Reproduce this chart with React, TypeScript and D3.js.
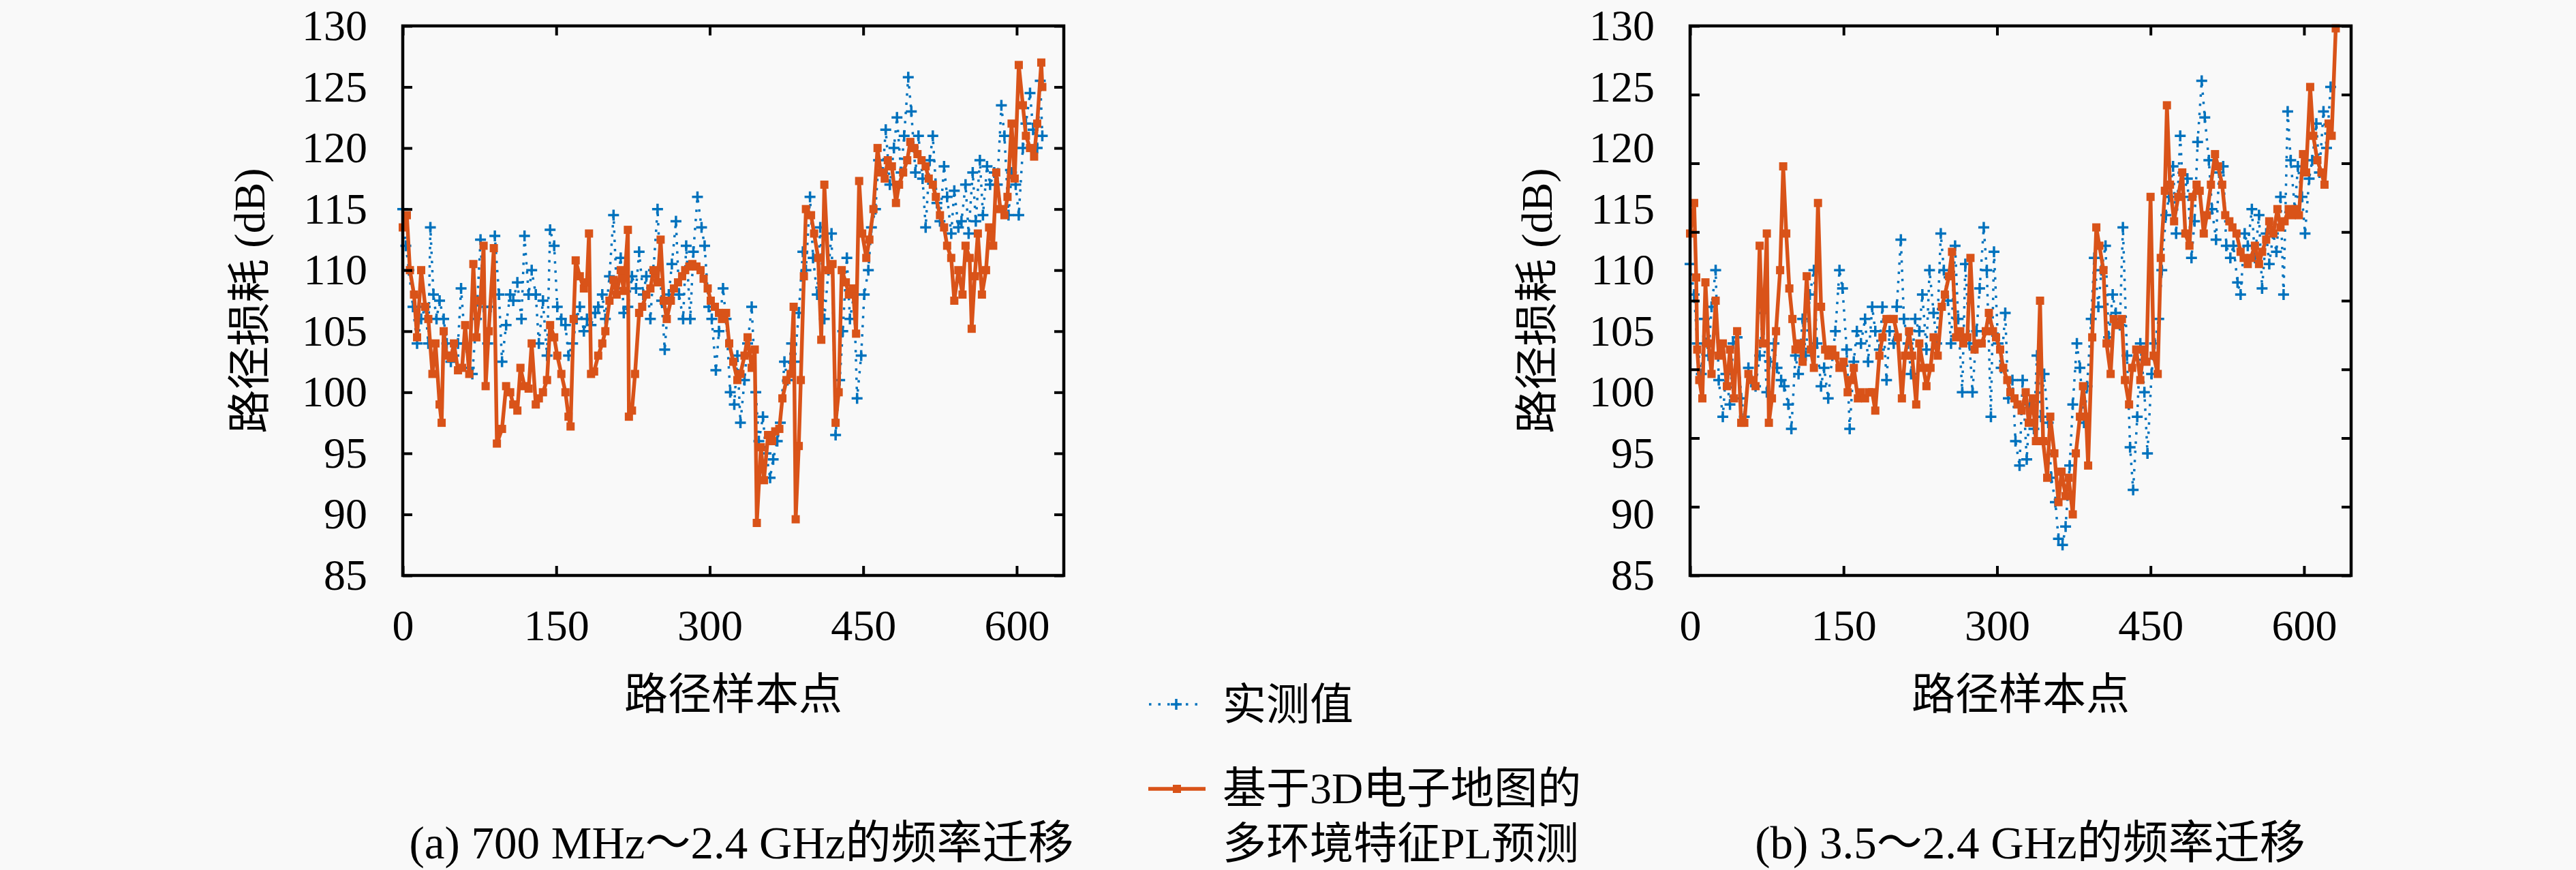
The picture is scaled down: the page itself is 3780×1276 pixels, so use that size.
import React, { useRef, useEffect } from 'react';
import * as d3 from 'd3';

// ---- data (sample index, path loss dB) ----
// (a) 700 MHz -> 2.4 GHz
const measAIdx = [0,3,6,10,14,18,22,25,27,30,33,36,40,43,47,50,54,57,61,65,68,72,76,79,83,86,90,94,97,101,105,108,112,116,119,123,126,130,133,137,141,144,148,151,155,159,162,166,170,173,177,180,184,188,191,195,198,202,206,209,213,216,220,224,228,231,235,238,242,245,249,253,256,260,263,267,270,274,277,281,284,288,292,295,299,302,306,309,313,316,320,324,327,330,334,337,341,345,348,352,355,359,362,366,369,373,376,380,383,387,391,394,398,401,405,408,412,416,419,423,427,430,434,437,441,444,448,451,455,458,462,465,469,472,476,480,483,487,490,494,497,501,504,508,511,515,518,522,525,529,532,536,539,543,546,550,553,557,560,564,567,571,574,578,581,585,588,592,595,599,602,606,609,613,616,620,623,625];
const measAVal = [115,112,110,107,104,106,107,104,113.5,108,106,107.5,106,104,102.5,103,104,108.5,104,102,101.5,106,112.5,107,104,107,112.8,108,102.5,105.5,108,107.5,109,106,112.8,108,110,108,104,107.5,103,113.3,112,107,106,105.5,103,104,106,107,105,106,105.5,106.5,107,108,106,109.5,114.5,108.5,111,106.5,107,109.5,108.5,111.5,108,109.5,106,110,115,107.5,103.5,108,110.5,114,108,106,112,106,111.5,116,113.5,112,107,106,101.8,105,108.5,106,100,99,103,97.5,101,104,107,100,96,98,95,93,94.5,96,97.5,102.5,101,104,102.5,106.5,111.5,110,116,111,108,113.5,106,110,113,96.5,101,105,111,106,108,99.5,103,108,110,113.5,115,119,118,121.5,117,120,122.5,118,121,125.8,123,118,121,117.5,113.5,119,121,115.5,114,118.5,116,113,116.5,113.5,114,117,113,118,114,119,114.5,118.5,117,118,117,123.5,121,114.5,118,117,114.5,120,122,124.5,121.5,120,125.5,121];
const predAIdx = [0,4,7,11,14,18,22,25,29,32,36,38,40,43,47,50,54,58,61,65,69,72,76,79,81,84,89,92,97,101,105,108,112,115,119,123,126,130,133,137,141,144,148,151,155,159,162,164,167,169,173,177,180,182,184,187,191,195,198,202,206,209,213,216,220,221,224,227,231,234,238,242,245,249,252,255,258,262,265,269,273,276,280,283,287,291,294,298,301,305,309,312,316,319,323,327,330,334,337,341,344,346,350,353,357,361,364,368,371,375,379,382,384,387,389,392,394,399,402,406,409,412,416,420,423,426,429,433,436,440,443,446,449,453,456,460,464,467,471,474,478,482,485,489,493,496,500,503,507,511,514,518,521,525,529,532,536,539,543,547,550,554,556,559,562,566,570,573,577,580,584,588,591,595,598,602,606,609,613,617,620,624,625];
const predAVal = [113.5,114.5,110,108,104.5,110,107,106,101.5,104,99,97.5,105,103,102.8,104,101.8,102,105.5,101.5,110.5,104.5,107.5,112,100.5,105,111.8,95.8,97,100.5,100,99,98.5,102,100.5,100.3,104,99,99.5,100,101,105.5,104.5,103,101.5,100,98,97.2,106,110.8,109.5,108.5,109,113,101.5,101.7,103,104,105,107.5,109.2,108,110,108.3,113.3,98,98.5,101.5,106.5,107,108,108.5,110,109,112.5,107.5,106,107.5,108.5,109,109.5,110,110.3,110.5,110.3,110,109.3,108.5,107.5,107,106.5,106,106.5,104,102.5,101,101.5,103,104.5,102,103.5,89.3,95.5,92.8,96.5,96,96.8,97,99.5,101,101.5,107,89.6,95.6,101,109.5,115,114.5,113,111,104.3,117,110,110.5,97.5,100,110,109,108,108.5,104.8,117.3,113,111,112.5,115,120,118,117.5,119,118.5,115.5,117,118,119,120.5,120,119.5,119,118.5,117.5,117,116,114.5,113.5,112,111,107.5,110,108,112,111,105.2,109.5,113,108,110,113.5,112,118,115,114.5,116,122,117.5,126.8,123.5,121,120,119.3,122,127,125];

// (b) 3.5 -> 2.4 GHz
const measBIdx = [0,4,7,11,14,18,21,25,28,32,35,39,42,46,50,53,57,60,64,68,71,75,78,82,85,89,92,96,99,103,106,110,113,117,121,124,128,131,135,139,142,146,149,153,156,160,163,167,171,174,178,181,185,188,192,195,199,202,206,209,213,216,220,224,227,231,234,238,241,245,248,252,255,259,262,266,269,273,276,280,283,287,290,294,297,301,304,308,311,315,318,322,325,329,332,336,339,343,346,350,353,357,360,364,367,371,374,378,381,385,388,392,395,399,402,406,409,413,416,420,423,427,430,433,437,440,444,447,451,454,458,461,465,468,472,475,479,482,486,490,493,496,500,503,507,510,514,517,521,524,528,531,535,538,542,545,549,552,556,559,563,566,570,573,577,580,584,587,591,594,598,601,605,608,612,615,619,622,626];
const measBVal = [110.5,108,104,101.5,106,103,107,110,101,98,101.5,99,104,104.5,99.5,98,102,101,100.5,103,106.5,100,102.5,104,102,101,100.5,99,97,103,101.5,106,103,108,110,104,100.5,102,99.5,103,105,110,108.5,103.5,97,102.5,105,104,106,102.5,107,105,103.5,107,101,105,104,107,112.5,106,104,101.5,106,105,108,103.5,110,106.5,104,113,110,107.5,104,112,106,100,110.5,104,100,105,108.5,113.5,110,98,111.5,104,102,106.5,99.5,101,96,94,101,94.5,99,97,103,98,101.5,97.5,93,91,88,87.5,89,94,99,104,102,97.5,100.5,106,111,107,110,112,104.5,108,106.5,105.5,113.5,103,95.5,92,98,104,100,95,101.5,104,106,110,114.5,116,118.5,113,121,116,117.5,111,114,120.5,125.5,122.5,119,115,112.5,118,118.5,112,111,112,109,108,113,112,115,111,114.5,108.5,113,110.5,113,111.5,116,108,123,119,115,118.5,116,113,117.5,119,122,118,123,120,125];
const predBIdx = [0,4,6,7,9,12,15,18,21,25,28,32,36,39,43,46,50,53,57,60,64,68,71,75,77,80,84,88,91,94,97,100,103,107,110,114,118,121,125,128,132,135,139,142,146,150,154,157,160,164,167,171,175,178,181,185,188,192,196,199,203,207,210,214,217,221,224,228,231,235,238,242,246,249,253,256,260,264,267,271,274,278,281,285,289,292,296,299,303,306,310,313,317,320,324,328,331,335,338,342,345,349,352,356,360,363,367,370,374,377,381,384,387,389,393,397,400,404,407,411,414,418,422,425,429,432,436,440,443,446,450,453,457,460,464,466,469,473,477,481,484,488,491,495,498,502,505,509,513,516,520,523,527,530,534,538,541,545,548,552,556,559,563,566,570,574,577,581,585,588,592,595,599,602,606,609,613,617,620,624,627,631];
const predBVal = [113,115.5,109.4,103.5,101,99.5,109,104,101.5,107.5,103,104,100.5,103.5,99.5,105,97.5,97.5,101.5,101,100.5,112,104,113,97.5,99.5,105,110,118.5,113,108.5,106,103.5,104,102.5,109.5,103.5,102,115.5,107,103.5,103,103.5,103,102,102.5,100,101,102,99.5,100,99.5,100,100,98.5,103,104.5,106,106,106,104.5,99.5,103,105,103,99,104,102,100.5,102,104.5,103,107,108,109.5,111.5,104.5,105,104,104.5,111,103.5,104,104,105,106.5,105,104.5,103.5,102,101,100,99.5,99,98.5,100,97.5,99.5,96,107.5,96,93,98,95,91,93.5,91.5,93,90,95,98,100.5,98,94,104.5,113.5,112,110,104,101.5,106,105.5,106,101,99,102,103.5,101,103.5,102.5,116,103,101.5,111,116.5,123.5,117,114,116,118,113,112,116,117,116.5,113,114.5,117,119.5,118.5,117,114.5,114,113.5,113,111.5,111,110.5,111,112,110.5,111.5,112.5,114,113,115,113.5,114,115,114.5,115,114.5,119.5,118,125,121,119,118,117,122,121,129.8];

const xTicks = [0, 150, 300, 450, 600];
const yTickLabels = [85, 90, 95, 100, 105, 110, 115, 120, 125, 130];

const W = 3780;
const H = 1276;
const TOP = 38;
const BOTTOM = 844;
const PLOT_W = 970;
const X_MAX = 646;
const FONT = "'Liberation Serif', 'Noto Sans CJK SC', serif";
const BLUE = '#0072BD';
const ORANGE = '#D95319';
const FS = 64;

type Sel = d3.Selection<SVGSVGElement, unknown, null, undefined>;

interface PanelCfg {
  left: number;
  measIdx: number[];
  measVal: number[];
  predIdx: number[];
  predVal: number[];
  yMarks: number[];
  caption: string;
  captionX: number;
}

function styleAxis(g: d3.Selection<SVGGElement, unknown, null, undefined>) {
  g.select('.domain').remove();
  g.selectAll('.tick line').attr('stroke-width', 4);
  g.selectAll('text').attr('font-size', FS).attr('font-family', FONT).attr('fill', '#000');
  g.attr('font-family', FONT);
}

function drawPanel(svg: Sel, p: PanelCfg) {
  const x = d3.scaleLinear().domain([0, X_MAX]).range([p.left, p.left + PLOT_W]);
  const y = d3.scaleLinear().domain([85, 130]).range([BOTTOM, TOP]);
  const g = svg.append('g');

  const line = d3.line<[number, number]>().x(d => x(d[0])).y(d => y(d[1]));

  // measured values: dotted line with plus markers
  const meas = d3.zip(p.measIdx, p.measVal) as [number, number][];
  g.append('path')
    .datum(meas)
    .attr('d', line)
    .attr('fill', 'none')
    .attr('stroke', BLUE)
    .attr('stroke-width', 3.5)
    .attr('stroke-dasharray', '3.5 10');
  g.append('g').selectAll('path')
    .data(meas)
    .join('path')
    .attr('d', d => `M${x(d[0]) - 8},${y(d[1])}h16M${x(d[0])},${y(d[1]) - 8}v16`)
    .attr('stroke', BLUE)
    .attr('stroke-width', 3.5);

  // predicted values: solid line with square markers
  const pred = d3.zip(p.predIdx, p.predVal) as [number, number][];
  g.append('path')
    .datum(pred)
    .attr('d', line)
    .attr('fill', 'none')
    .attr('stroke', ORANGE)
    .attr('stroke-width', 5.5)
    .attr('stroke-linejoin', 'round');
  g.append('g').selectAll('rect')
    .data(pred)
    .join('rect')
    .attr('x', d => x(d[0]) - 6)
    .attr('y', d => y(d[1]) - 6)
    .attr('width', 12)
    .attr('height', 12)
    .attr('fill', ORANGE);

  // axes, ticks pointing inward on all four sides
  const bottom = g.append('g')
    .attr('transform', `translate(0,${BOTTOM})`)
    .call(d3.axisBottom(x).tickValues(xTicks).tickSize(-14).tickPadding(50).tickFormat(d3.format('d')));
  styleAxis(bottom);
  const top = g.append('g')
    .attr('transform', `translate(0,${TOP})`)
    .call(d3.axisTop(x).tickValues(xTicks).tickSize(-14).tickFormat(() => ''));
  styleAxis(top);

  const leftLabels = g.append('g')
    .attr('transform', `translate(${p.left},0)`)
    .call(d3.axisLeft(y).tickValues(yTickLabels).tickSize(0).tickPadding(52).tickFormat(d3.format('d')));
  styleAxis(leftLabels);
  const leftMarks = g.append('g')
    .attr('transform', `translate(${p.left},0)`)
    .call(d3.axisLeft(y).tickValues(p.yMarks).tickSize(-14).tickFormat(() => ''));
  styleAxis(leftMarks);
  const rightMarks = g.append('g')
    .attr('transform', `translate(${p.left + PLOT_W},0)`)
    .call(d3.axisRight(y).tickValues(p.yMarks).tickSize(-14).tickFormat(() => ''));
  styleAxis(rightMarks);

  g.append('rect')
    .attr('x', p.left)
    .attr('y', TOP)
    .attr('width', PLOT_W)
    .attr('height', BOTTOM - TOP)
    .attr('fill', 'none')
    .attr('stroke', '#000')
    .attr('stroke-width', 4.5);

  // axis titles
  g.append('text')
    .attr('transform', `translate(${p.left - 225},${(TOP + BOTTOM) / 2}) rotate(-90)`)
    .attr('text-anchor', 'middle')
    .attr('dominant-baseline', 'central')
    .attr('font-family', FONT)
    .attr('font-size', FS)
    .text('路径损耗 (dB)');
  g.append('text')
    .attr('x', p.left + PLOT_W / 2)
    .attr('y', 1040)
    .attr('text-anchor', 'middle')
    .attr('font-family', FONT)
    .attr('font-size', FS)
    .text('路径样本点');

  g.append('text')
    .attr('x', p.captionX)
    .attr('y', 1259)
    .attr('text-anchor', 'middle')
    .attr('font-family', FONT)
    .attr('font-size', 67)
    .text(p.caption);
}

const App: React.FC = () => {
  const svgRef = useRef<SVGSVGElement | null>(null);

  useEffect(() => {
    const svg = d3.select(svgRef.current) as Sel;
    svg.selectAll('*').remove();

    drawPanel(svg, {
      left: 591,
      measIdx: measAIdx,
      measVal: measAVal,
      predIdx: predAIdx,
      predVal: predAVal,
      yMarks: yTickLabels,
      caption: '(a) 700 MHz～2.4 GHz的频率迁移',
      captionX: 1088,
    });
    // panel (b): tick marks split the frame into 8 parts, labels into 9
    drawPanel(svg, {
      left: 2480,
      measIdx: measBIdx,
      measVal: measBVal,
      predIdx: predBIdx,
      predVal: predBVal,
      yMarks: d3.range(9).map(i => 85 + (i * 45) / 8),
      caption: '(b) 3.5～2.4 GHz的频率迁移',
      captionX: 2979,
    });

    // legend
    const lg = svg.append('g');
    lg.append('line')
      .attr('x1', 1686).attr('x2', 1766).attr('y1', 1033).attr('y2', 1033)
      .attr('stroke', BLUE).attr('stroke-width', 3.5).attr('stroke-dasharray', '3.5 10');
    lg.append('path')
      .attr('d', 'M1718,1033h16M1726,1025v16')
      .attr('stroke', BLUE).attr('stroke-width', 3.5);
    lg.append('text')
      .attr('x', 1794).attr('y', 1055)
      .attr('font-family', FONT).attr('font-size', FS)
      .text('实测值');

    lg.append('line')
      .attr('x1', 1685).attr('x2', 1769).attr('y1', 1157).attr('y2', 1157)
      .attr('stroke', ORANGE).attr('stroke-width', 5.5);
    lg.append('rect')
      .attr('x', 1721).attr('y', 1151).attr('width', 12).attr('height', 12)
      .attr('fill', ORANGE);
    lg.append('text')
      .attr('x', 1794).attr('y', 1178)
      .attr('font-family', FONT).attr('font-size', FS)
      .text('基于3D电子地图的');
    lg.append('text')
      .attr('x', 1794).attr('y', 1259)
      .attr('font-family', FONT).attr('font-size', FS)
      .text('多环境特征PL预测');
  }, []);

  return (
    <svg
      ref={svgRef}
      width={W}
      height={H}
      style={{ position: 'absolute', left: 0, top: 0, background: '#f9f9f9' }}
    />
  );
};

export default App;
